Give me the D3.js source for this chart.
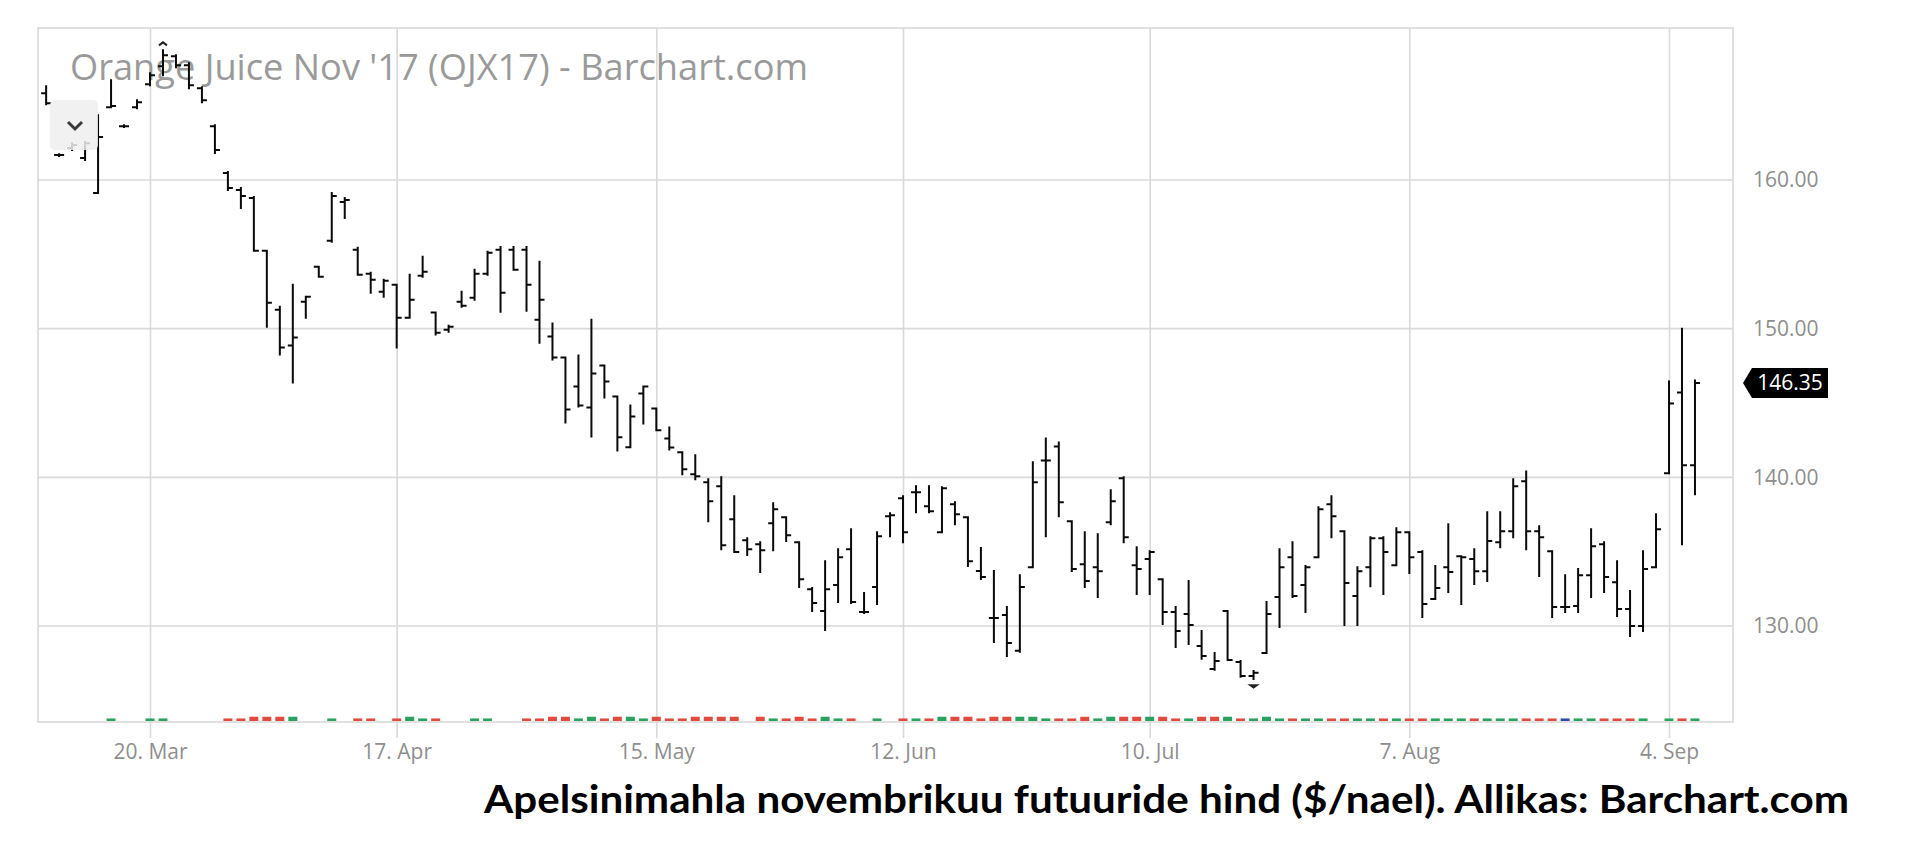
<!DOCTYPE html>
<html><head><meta charset="utf-8">
<script src="https://cdn.jsdelivr.net/npm/d3@7"></script>
<style>body{margin:0;background:#fff}svg{display:block}</style>
</head><body>
<svg id="c" width="1920" height="866"></svg>
<script>
// ---- data (session index 0 = 20 Mar 2017; first bar is 8 sessions earlier) ----
const firstIndex = -8;
const opens = [165.84,161.68,162.15,161.48,159.13,164.90,163.62,164.90,
166.44,167.65,168.32,167.72,166.17,163.62,160.47,159.33,158.79,155.24,
151.28,148.86,151.81,154.16,155.91,158.52,155.30,153.69,152.48,152.95,
150.74,153.56,151.08,149.93,151.81,152.08,153.69,155.30,155.30,155.30,
150.60,149.47,148.06,146.11,144.70,147.52,145.44,142.02,145.64,144.63,
142.62,141.68,140.20,139.67,139.40,137.18,135.77,135.50,136.91,137.32,
135.64,132.48,131.01,132.75,135.17,130.94,132.62,137.38,138.59,138.99,
138.05,136.31,138.19,137.32,133.70,130.54,130.74,128.33,133.96,141.14,
142.08,137.05,134.16,133.96,136.98,139.93,134.09,134.50,133.15,130.94,
130.81,128.66,127.11,131.01,127.58,126.64,128.19,131.95,134.63,132.75,
134.63,138.19,136.38,132.01,133.96,135.91,134.09,136.31,134.97,131.81,
133.96,134.70,134.50,133.69,135.64,136.38,139.73,136.38,135.03,131.28,
131.34,133.42,135.50,132.95,131.14,130.00,133.96,140.27,145.71,140.81];
const highs = [166.31,161.74,162.48,162.55,164.36,166.71,163.69,165.37,
167.18,168.72,168.39,167.85,166.24,163.69,160.54,159.46,158.86,155.24,
151.48,152.95,152.15,154.16,159.13,158.79,155.44,153.76,153.29,152.95,
153.62,154.83,151.08,150.20,152.48,153.96,155.17,155.50,155.50,155.50,
154.50,150.34,148.06,148.19,150.60,147.52,145.44,144.83,146.11,144.63,
143.36,141.68,141.48,139.87,140.00,138.73,135.91,135.64,138.26,137.32,
135.64,132.55,134.36,135.17,136.51,132.22,136.31,137.58,138.73,139.40,
139.40,139.33,138.32,137.32,135.24,133.70,131.28,133.42,141.01,142.62,
142.35,137.05,136.31,136.17,139.13,140.00,135.30,135.03,133.15,131.28,
133.02,129.67,128.19,131.01,127.65,126.98,131.61,135.17,135.64,134.03,
137.99,138.73,136.38,133.96,135.97,135.97,136.58,136.31,135.03,134.03,
136.85,134.70,135.17,137.65,137.65,139.87,140.40,136.71,135.03,133.42,
133.83,136.51,135.64,134.36,132.35,135.03,137.52,146.44,150.00,146.51];
const lows = [165.10,161.61,162.01,161.34,159.13,164.90,163.56,164.83,
166.37,167.05,167.58,166.17,165.23,161.81,159.33,158.12,155.24,150.13,
148.26,146.38,150.74,153.49,155.84,157.45,153.62,152.42,152.15,148.73,
150.74,153.49,149.60,149.80,151.48,151.95,153.62,151.14,153.96,151.21,
149.06,147.92,143.69,144.77,142.75,145.37,141.81,142.02,143.62,143.16,
141.88,140.20,139.87,137.05,135.17,134.97,134.77,133.63,135.10,135.71,
132.62,131.01,129.73,131.61,131.54,130.87,131.48,136.04,135.64,137.65,
137.65,136.31,136.85,134.03,133.16,128.93,127.99,128.26,133.96,136.04,
137.38,133.70,132.62,131.95,136.85,135.64,132.15,132.15,130.13,128.59,
128.79,127.79,127.05,127.72,126.58,126.44,128.19,129.93,131.95,130.94,
134.63,135.97,130.07,130.07,132.68,132.15,134.09,133.56,130.60,131.81,
132.28,131.48,132.82,133.02,135.30,135.97,135.17,133.36,130.60,130.94,
130.94,131.95,132.28,130.67,129.33,129.66,133.96,140.27,135.50,138.86];
const closes = [165.17,161.68,162.35,162.48,162.89,164.97,163.62,165.23,
167.05,168.39,167.72,166.38,165.37,162.01,159.46,158.93,155.24,151.74,
148.73,149.40,152.15,153.49,158.93,158.66,153.62,153.29,153.22,150.74,
151.95,153.83,149.73,150.13,151.54,153.69,155.10,152.42,153.96,152.95,
151.95,148.06,144.57,144.83,146.98,146.44,142.69,144.10,146.11,143.16,
142.01,140.54,140.07,138.39,135.44,134.97,135.17,135.10,137.85,136.11,
133.15,131.54,132.48,134.63,131.61,130.94,136.04,137.45,136.31,138.99,
137.72,139.26,137.52,134.36,133.29,130.54,128.86,132.62,139.67,141.14,
138.32,133.83,133.02,133.69,138.39,135.97,133.83,134.97,130.94,129.66,
130.07,127.99,127.65,127.72,126.64,126.85,130.81,133.96,132.01,133.96,
137.85,137.38,132.89,133.69,135.91,134.97,136.31,134.63,131.48,132.55,
133.63,134.63,133.69,135.71,136.38,139.40,136.38,135.97,131.28,131.28,
133.42,135.37,133.29,131.14,130.00,133.83,136.51,144.97,140.81,146.35];
const volumes = [0,0,0,0,0,150,0,0,
150,150,0,0,0,0,150,150,250,250,
250,250,0,0,150,0,150,150,0,150,
250,150,150,0,0,150,150,0,0,150,
150,250,250,150,250,150,250,250,150,250,
150,150,250,250,250,250,0,250,150,150,
250,150,250,150,150,0,150,0,150,150,
150,250,250,250,150,250,250,250,250,150,
150,150,250,150,250,250,250,250,250,150,
150,250,250,250,150,150,250,150,150,150,
150,150,150,150,150,150,150,150,150,150,
150,150,150,150,150,150,150,150,150,150,
150,150,150,150,150,150,0,150,150,150];
const tickIndex = [0,19,39,58,77,97,117];
const tickLabels = ["20. Mar","17. Apr","15. May","12. Jun","10. Jul","7. Aug","4. Sep"];
const priceTicks = [130,140,150,160];
const lastPrice = 146.35;
const titleText = "Orange Juice Nov '17 (OJX17) - Barchart.com";
const captionText = "Apelsinimahla novembrikuu futuuride hind ($/nael). Allikas: Barchart.com";

// ---- layout ----
const P = {left:38, top:28, right:1733, bottom:722};
const svg = d3.select("#c");
const x = d3.scaleLinear().domain([0,117]).range([150,1669]);
const y = d3.scaleLinear().domain([130,160]).range([626,180]);
const vol = d3.scaleLinear().domain([0,1000]).range([0,17]);
const grid = "#d9d9d9";

// frame + grid
svg.append("g").selectAll("line").data(priceTicks).join("line")
  .attr("x1",P.left).attr("x2",P.right).attr("y1",d=>y(d)).attr("y2",d=>y(d))
  .attr("stroke",grid).attr("stroke-width",1.6);

const xAxis = svg.append("g").attr("transform",`translate(0,${P.bottom})`)
  .call(d3.axisBottom(x).tickValues(tickIndex).tickFormat((d,i)=>tickLabels[i]).tickSize(16).tickPadding(6));
xAxis.select(".domain").remove();
xAxis.selectAll(".tick line").attr("stroke",grid).attr("stroke-width",1.6).attr("y1",-(P.bottom-P.top));
xAxis.selectAll("text").attr("fill","#8e8e8e").attr("font-family","Open Sans").attr("font-size",21);

svg.append("rect").attr("x",P.left).attr("y",P.top).attr("width",P.right-P.left).attr("height",P.bottom-P.top)
  .attr("fill","none").attr("stroke",grid).attr("stroke-width",1.6);

const yAxis = svg.append("g").attr("transform",`translate(${P.right},0)`)
  .call(d3.axisRight(y).tickValues(priceTicks).tickFormat(d3.format(".2f")).tickSize(0).tickPadding(20));
yAxis.select(".domain").remove();
yAxis.selectAll("text").attr("fill","#8e8e8e").attr("font-family","Open Sans").attr("font-size",21);

// title
svg.append("text").attr("x",70).attr("y",80).text(titleText)
  .attr("font-family","Open Sans").attr("font-size",36).attr("fill","#9a9a9a")
  .attr("textLength",738).attr("lengthAdjust","spacingAndGlyphs");

// data rows
const rows = opens.map((o,k)=>({i:firstIndex+k,o,h:highs[k],l:lows[k],c:closes[k],v:volumes[k],
  prev: k>0?closes[k-1]:null}));

// volume
svg.append("g").selectAll("rect").data(rows.filter(d=>d.v>0)).join("rect")
  .attr("x",d=>x(d.i)-4.5).attr("width",9)
  .attr("y",d=>P.bottom-1-vol(d.v)).attr("height",d=>vol(d.v))
  .attr("fill",d=>d.prev===null||d.c>d.prev?"#2aa15e":(d.c<d.prev?"#e04a3f":"#2b4da6"));

// OHLC bars
const bars = svg.append("g").attr("stroke","#0a0a0a").attr("stroke-width",2);
bars.selectAll("path").data(rows).join("path")
  .attr("fill","none")
  .attr("d",d=>{const cx=x(d.i);
    return `M${cx},${y(d.h)-1}V${y(d.l)+1}M${cx-5},${y(d.o)}H${cx}M${cx},${y(d.c)}H${cx+5}`;});

// high / low markers
const hi = rows[d3.maxIndex(rows,d=>d.h)], lo = rows[d3.minIndex(rows,d=>d.l)];
svg.append("path").attr("d",`M${x(hi.i)-4},${y(hi.h)-5}L${x(hi.i)},${y(hi.h)-8}L${x(hi.i)+4},${y(hi.h)-5}`)
  .attr("fill","none").attr("stroke","#222").attr("stroke-width",2);
svg.append("path").attr("d",`M${x(lo.i)-4},${y(lo.l)+6}L${x(lo.i)},${y(lo.l)+9}L${x(lo.i)+4},${y(lo.l)+6}Z`)
  .attr("fill","#222").attr("stroke","#222").attr("stroke-width",1.5);

// dropdown button overlay
svg.append("rect").attr("x",50).attr("y",100).attr("width",48).attr("height",50).attr("rx",5)
  .attr("fill","#eeeeee").attr("fill-opacity",0.85);
svg.append("path").attr("d","M68,122 L75,129 L82,122").attr("fill","none").attr("stroke","#3a3a3a").attr("stroke-width",3);

// last price tag
const ly = y(lastPrice);
svg.append("path").attr("d",`M1743,${ly} L1752,${ly-15} H1828 V${ly+15} H1752 Z`).attr("fill","#000");
svg.append("text").attr("x",1790).attr("y",ly).attr("dy","0.36em").attr("text-anchor","middle")
  .attr("fill","#fff").attr("font-family","Open Sans").attr("font-size",21).text(d3.format(".2f")(lastPrice));

// caption
svg.append("text").attr("x",484).attr("y",813).text(captionText)
  .attr("font-family","Lato").attr("font-weight","bold").attr("font-size",39).attr("fill","#000")
  .attr("textLength",1365).attr("lengthAdjust","spacingAndGlyphs");
</script>
</body></html>
